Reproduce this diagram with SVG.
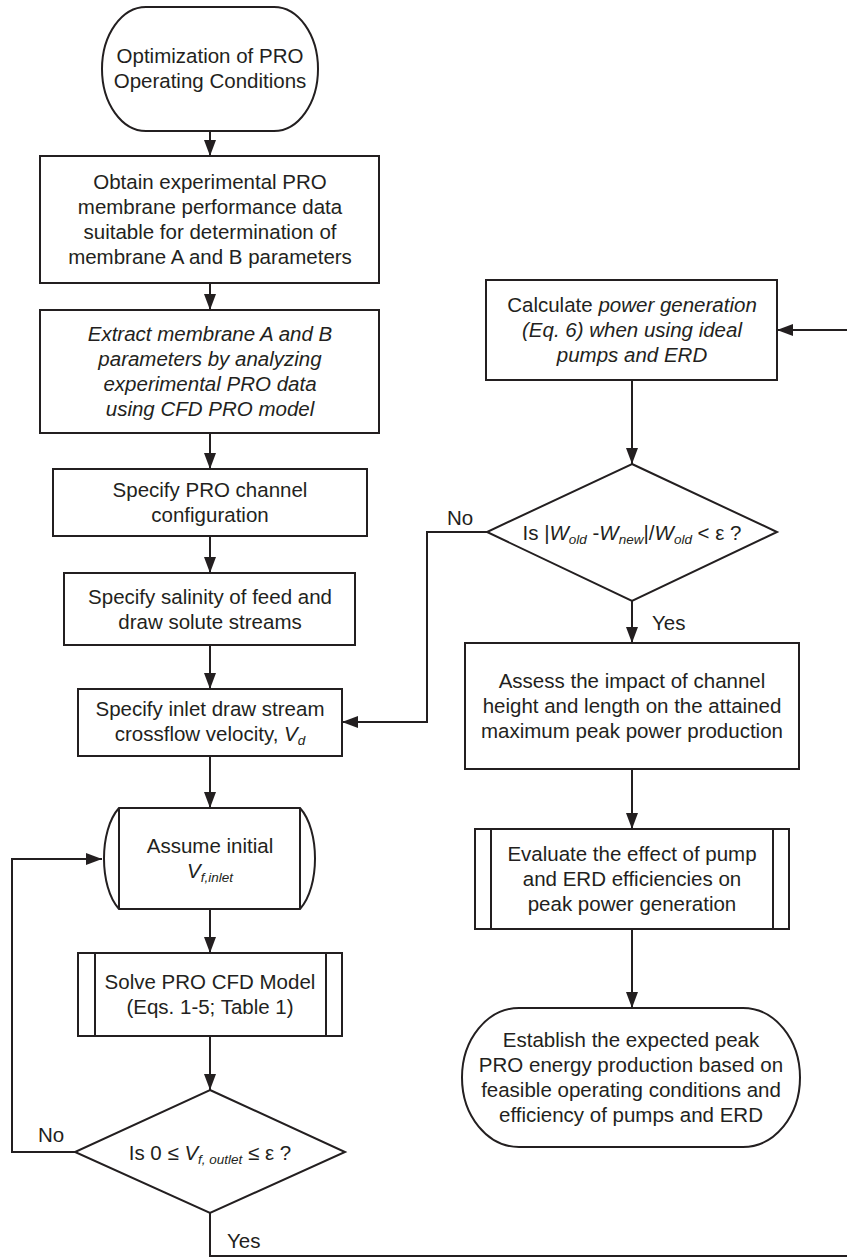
<svg xmlns="http://www.w3.org/2000/svg" width="847" height="1258" viewBox="0 0 847 1258">
<defs>
<style>
.n{fill:#fff;stroke:#231f20;stroke-width:2}
.l{fill:none;stroke:#231f20;stroke-width:2}
.c{fill:none;stroke:#231f20;stroke-width:2}
.t{font-family:"Liberation Sans",Arial,Helvetica,sans-serif;font-size:20.5px;fill:#231f20;text-anchor:middle}
.lab{font-family:"Liberation Sans",Arial,Helvetica,sans-serif;font-size:20.5px;fill:#231f20}
.i{font-style:italic}
.s{font-size:13.5px;font-style:italic}
</style>
<marker id="ah" markerUnits="userSpaceOnUse" markerWidth="16" markerHeight="12" refX="16" refY="6" orient="auto">
<path d="M0,0 L16,6 L0,12 Z" fill="#231f20"/>
</marker>
</defs>
<rect width="847" height="1258" fill="#fff"/>

<g id="connectors">
<path class="c" d="M210,131 V156" marker-end="url(#ah)"/>
<path class="c" d="M210,283 V310" marker-end="url(#ah)"/>
<path class="c" d="M210,433 V469" marker-end="url(#ah)"/>
<path class="c" d="M210,536 V573" marker-end="url(#ah)"/>
<path class="c" d="M210,645 V689" marker-end="url(#ah)"/>
<path class="c" d="M210,756 V808" marker-end="url(#ah)"/>
<path class="c" d="M210,909 V953" marker-end="url(#ah)"/>
<path class="c" d="M210,1036 V1090" marker-end="url(#ah)"/>
<path class="c" d="M75,1152 H12 V859 H102" marker-end="url(#ah)"/>
<path class="c" d="M210,1213 V1256 H849 V330 H777" marker-end="url(#ah)"/>
<path class="c" d="M632,380 V464" marker-end="url(#ah)"/>
<path class="c" d="M487,532 H427 V722 H342" marker-end="url(#ah)"/>
<path class="c" d="M632,601 V643" marker-end="url(#ah)"/>
<path class="c" d="M632,769 V829" marker-end="url(#ah)"/>
<path class="c" d="M632,929 V1008" marker-end="url(#ah)"/>
<text class="lab" x="38" y="1142">No</text>
<text class="lab" x="227" y="1248">Yes</text>
<text class="lab" x="447" y="525">No</text>
<text class="lab" x="652" y="630">Yes</text>
</g>

<g id="start">
<rect class="n" x="102" y="7" width="216" height="124" rx="44" ry="62"/>
<text class="t" x="210" y="63">Optimization of PRO</text>
<text class="t" x="210" y="88">Operating Conditions</text>
</g>

<g id="obtain">
<rect class="n" x="40" y="156" width="339" height="127"/>
<text class="t" x="210" y="189">Obtain experimental PRO</text>
<text class="t" x="210" y="214">membrane performance data</text>
<text class="t" x="210" y="239">suitable for determination of</text>
<text class="t" x="210" y="264">membrane A and B parameters</text>
</g>

<g id="extract">
<rect class="n" x="40" y="310" width="339" height="123"/>
<text class="t i" x="210" y="341">Extract membrane A and B</text>
<text class="t i" x="210" y="366">parameters by analyzing</text>
<text class="t i" x="210" y="391">experimental PRO data</text>
<text class="t i" x="210" y="416">using CFD PRO model</text>
</g>

<g id="channel">
<rect class="n" x="53" y="469" width="314" height="67"/>
<text class="t" x="210" y="497">Specify PRO channel</text>
<text class="t" x="210" y="522">configuration</text>
</g>

<g id="salinity">
<rect class="n" x="64" y="573" width="291" height="72"/>
<text class="t" x="210" y="604">Specify salinity of feed and</text>
<text class="t" x="210" y="629">draw solute streams</text>
</g>

<g id="inlet">
<rect class="n" x="78" y="689" width="264" height="67"/>
<text class="t" x="210" y="716">Specify inlet draw stream</text>
<text class="t" x="210" y="741">crossflow velocity, <tspan class="i">V</tspan><tspan class="s" dy="4">d</tspan></text>
</g>

<g id="assume">
<path class="n" d="M119,808 H300 C320,830 320,887 300,909 H119 C99,887 99,830 119,808 Z"/>
<path class="l" d="M119,808 V909 M300,808 V909"/>
<text class="t" x="210" y="853">Assume initial</text>
<text class="t" x="210" y="878"><tspan class="i">V</tspan><tspan class="s" dy="4">f,inlet</tspan></text>
</g>

<g id="solve">
<rect class="n" x="78" y="953" width="264" height="83"/>
<path class="l" d="M95,953 V1036 M326,953 V1036"/>
<text class="t" x="210" y="989">Solve PRO CFD Model</text>
<text class="t" x="210" y="1014">(Eqs. 1-5; Table 1)</text>
</g>

<g id="check-velocity">
<path class="n" d="M210,1090 L345,1152 L210,1213 L75,1152 Z"/>
<text class="t" x="210" y="1160">Is 0 ≤ <tspan class="i">V</tspan><tspan class="s" dy="4">f, outlet</tspan><tspan dy="-4"> ≤ ε ?</tspan></text>
</g>

<g id="calculate">
<rect class="n" x="486" y="280" width="291" height="100"/>
<text class="t" x="632" y="312">Calculate <tspan class="i">power generation</tspan></text>
<text class="t i" x="632" y="337">(Eq. 6) when using ideal</text>
<text class="t i" x="632" y="362">pumps and ERD</text>
</g>

<g id="check-power">
<path class="n" d="M632,464 L777,532 L632,601 L487,532 Z"/>
<text class="t" x="632" y="540">Is |<tspan class="i">W</tspan><tspan class="s" dy="4">old</tspan><tspan dy="-4"> -</tspan><tspan class="i">W</tspan><tspan class="s" dy="4">new</tspan><tspan dy="-4">|/</tspan><tspan class="i">W</tspan><tspan class="s" dy="4">old</tspan><tspan dy="-4"> &lt; ε ?</tspan></text>
</g>

<g id="assess">
<rect class="n" x="465" y="643" width="334" height="126"/>
<text class="t" x="632" y="688">Assess the impact of channel</text>
<text class="t" x="632" y="713">height and length on the attained</text>
<text class="t" x="632" y="738">maximum peak power production</text>
</g>

<g id="evaluate">
<rect class="n" x="475" y="829" width="314" height="100"/>
<path class="l" d="M491,829 V929 M773,829 V929"/>
<text class="t" x="632" y="861">Evaluate the effect of pump</text>
<text class="t" x="632" y="886">and ERD efficiencies on</text>
<text class="t" x="632" y="911">peak power generation</text>
</g>

<g id="end">
<rect class="n" x="462" y="1008" width="338" height="139" rx="57" ry="69.5"/>
<text class="t" x="631" y="1047">Establish the expected peak</text>
<text class="t" x="631" y="1072">PRO energy production based on</text>
<text class="t" x="631" y="1097">feasible operating conditions and</text>
<text class="t" x="631" y="1122">efficiency of pumps and ERD</text>
</g>
</svg>
